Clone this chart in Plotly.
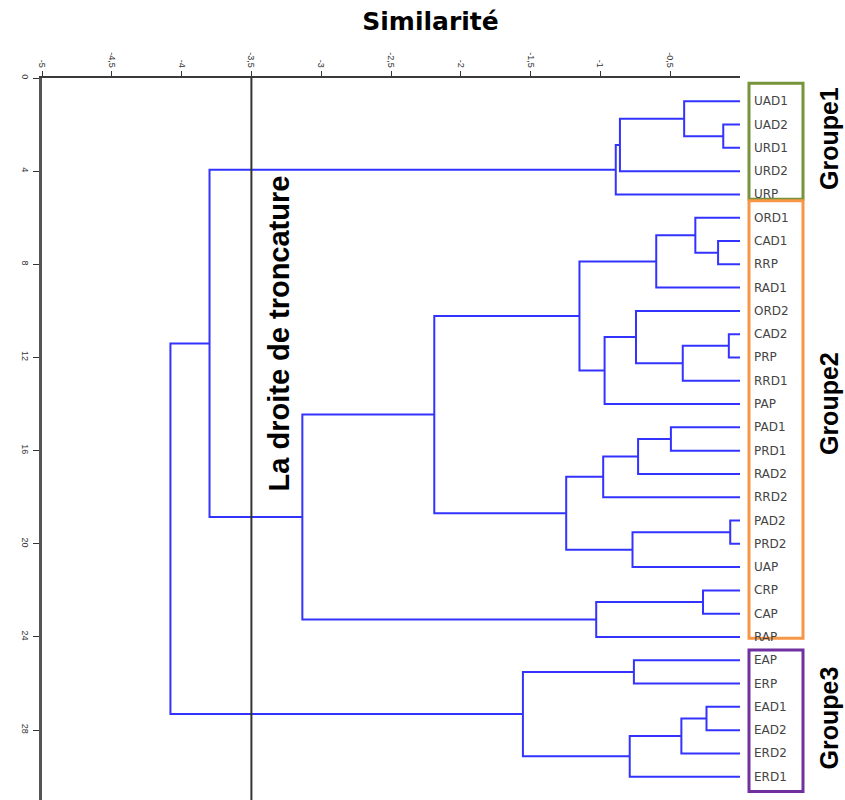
import plotly.graph_objects as go

# Leaf order (top to bottom)
leaves = ["UAD1", "UAD2", "URD1", "URD2", "URP",
          "ORD1", "CAD1", "RRP", "RAD1", "ORD2", "CAD2", "PRP", "RRD1", "PAP",
          "PAD1", "PRD1", "RAD2", "RRD2", "PAD2", "PRD2", "UAP", "CRP", "CAP", "RAP",
          "EAP", "ERP", "EAD1", "EAD2", "ERD2", "ERD1"]

# Agglomeration steps: node k is "c<k>" (1-based), joining left and right at a similarity level
merge_left = ["UAD2", "UAD1", "c2", "c3",
              "CAD1", "ORD1", "c6", "CAD2", "c8", "ORD2", "c10", "c7",
              "PAD1", "c13", "c14", "PAD2", "c16", "c15", "c12",
              "CRP", "c20", "c19",
              "EAP", "EAD1", "c24", "c25", "c23",
              "c4", "c28"]
merge_right = ["URD1", "c1", "URD2", "URP",
               "RRP", "c5", "RAD1", "PRP", "RRD1", "c9", "PAP", "c11",
               "PRD1", "RAD2", "RRD2", "PRD2", "UAP", "c17", "c18",
               "CAP", "RAP", "c21",
               "ERP", "EAD2", "ERD2", "ERD1", "c26",
               "c22", "c27"]
merge_sim = [-0.12, -0.40, -0.86, -0.89,
             -0.157, -0.32, -0.60, -0.08, -0.41, -0.745, -0.97, -1.15,
             -0.495, -0.73, -0.98, -0.07, -0.77, -1.245, -2.19,
             -0.265, -1.03, -3.135,
             -0.76, -0.24, -0.42, -0.79, -1.555,
             -3.80, -4.08]

# Groups obtained by cutting the tree
group_names = ["Groupe1", "Groupe2", "Groupe3"]
group_first = ["UAD1", "ORD1", "EAP"]
group_last = ["URP", "RAP", "ERD1"]
cut_level = -3.5
cut_label = "La droite de troncature"
axis_title = "Similarité"

x_tick_vals = [-5, -4.5, -4, -3.5, -3, -2.5, -2, -1.5, -1, -0.5]
x_tick_text = ["-5", "-4,5", "-4", "-3,5", "-3", "-2,5", "-2", "-1,5", "-1", "-0,5"]
y_tick_vals = [0, 4, 8, 12, 16, 20, 24, 28]

# ---- styling ----
box_colors = ["#77933c", "#f79646", "#7030a0"]
box_pads = [(0.77, 0.21), (0.73, 0.06), (0.44, 0.64)]
group_label_y = [2.62, 14.0, 27.5]
line_blue = "#3333ff"

# Positions of nodes: leaves sit at 1..N, at similarity 0
pos = {name: (0.0, i + 1.0) for i, name in enumerate(leaves)}
xs, ys = [], []
for k, (a, b, h) in enumerate(zip(merge_left, merge_right, merge_sim), start=1):
    xa, ya = pos[a]
    xb, yb = pos[b]
    xs += [xa, h, h, xb, None]
    ys += [ya, ya, yb, yb, None]
    pos[f"c{k}"] = (h, (ya + yb) / 2.0)

fig = go.Figure()
fig.add_trace(go.Scatter(x=xs, y=ys, mode="lines",
                         line=dict(color=line_blue, width=2),
                         hoverinfo="skip", showlegend=False, cliponaxis=False))

# Truncation line
fig.add_shape(type="line", xref="x", yref="y", x0=cut_level, x1=cut_level, y0=0, y1=31,
              line=dict(color="#333333", width=2))
fig.add_annotation(x=cut_level, y=10.95, xref="x", yref="y", xshift=28, xanchor="center",
                   text=f"<b>{cut_label}</b>", textangle=-90, showarrow=False,
                   font=dict(family="Liberation Sans", size=29, color="#000000"))

# Leaf labels
for i, name in enumerate(leaves):
    fig.add_annotation(x=1, y=i + 1, xref="paper", yref="y", xanchor="left", xshift=12,
                       text=name, showarrow=False,
                       font=dict(family="DejaVu Sans", size=12, color="#444444"))

# Group boxes and labels
box_x0 = (749 - 42) / 698
box_x1 = (803 - 42) / 698
label_x = (829 - 42) / 698
for gname, first, last, col, (pt, pb), gy in zip(group_names, group_first, group_last,
                                                  box_colors, box_pads, group_label_y):
    y0 = leaves.index(first) + 1 - pt
    y1 = leaves.index(last) + 1 + pb
    fig.add_shape(type="rect", xref="paper", yref="y", x0=box_x0, x1=box_x1, y0=y0, y1=y1,
                  line=dict(color=col, width=3))
    fig.add_annotation(x=label_x, y=gy, xref="paper", yref="y",
                       xanchor="center", yanchor="middle",
                       text=f"<b>{gname}</b>", textangle=-90, showarrow=False,
                       font=dict(family="Liberation Sans", size=25, color="#000000"))

fig.update_layout(
    width=845, height=800,
    margin=dict(l=42, r=105, t=78, b=0),
    paper_bgcolor="white", plot_bgcolor="white",
    title=dict(text=f"<b>{axis_title}</b>", x=430.5 / 845, y=1 - 21 / 800,
               xanchor="center", yanchor="middle",
               font=dict(family="DejaVu Sans", size=25, color="#000000")),
    xaxis=dict(side="top", range=[-5, 0], tickvals=x_tick_vals, ticktext=x_tick_text,
               tickangle=90, ticks="outside", ticklen=5, tickcolor="#333333",
               showline=True, linecolor="#3a3a3a", linewidth=2,
               showgrid=False, zeroline=False,
               tickfont=dict(family="Liberation Sans", size=9, color="#333333")),
    yaxis=dict(range=[31, 0], tickvals=y_tick_vals, tickangle=90,
               ticks="outside", ticklen=6, tickcolor="#333333",
               showline=True, linecolor="#555555", linewidth=3,
               showgrid=False, zeroline=False,
               tickfont=dict(family="Liberation Sans", size=9, color="#333333")),
)

fig.write_html("out.html")
